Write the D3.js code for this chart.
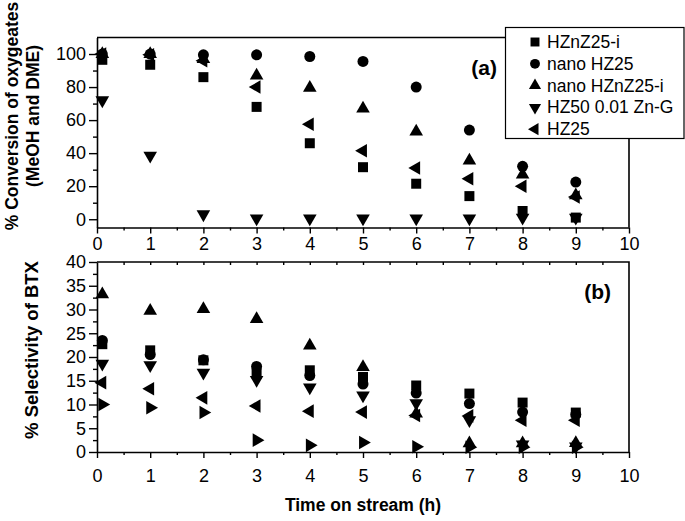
<!DOCTYPE html>
<html>
<head>
<meta charset="utf-8">
<script src="https://cdn.jsdelivr.net/npm/d3@7"></script>
<style>
  body { margin: 0; background: #fff; }
  svg { display: block; }
  text { font-family: "Liberation Sans", Arial, sans-serif; }
</style>
</head>
<body>
<svg id="chart" width="685" height="521"></svg>
<script>
// time on stream (h); first run sits just right of zero in the original
const hours = [0.1, 1, 2, 3, 4, 5, 6, 7, 8, 9]
const xTicks = [0, 1, 2, 3, 4, 5, 6, 7, 8, 9, 10]
const convTicks = [0, 20, 40, 60, 80, 100]
const selTicks = [0, 5, 10, 15, 20, 25, 30, 35, 40]

const seriesNames = ["HZnZ25-i", "nano HZ25", "nano HZnZ25-i", "HZ50 0.01 Zn-G", "HZ25", ""]
const seriesShapes = ["square", "circle", "up", "down", "left", "right"]

// (a) conversion of oxygeates
const convHZnZ25i = [96.5, 93.5, 86, 68, 46, 31.5, 21.5, 14, 5, 1]
const convNanoHZ25 = [100, 100, 99.5, 99.5, 98.5, 95.5, 80, 54, 32, 22.5]
const convNanoHZnZ25i = [100, 100, 97, 87, 79.5, 67, 53, 35.5, 27, 14.5]
const convHZ50 = [72, 38.5, 3, 0.5, 0.5, 0.5, 0.5, 0.5, 1, 1]
const convHZ25 = [100, 99.5, 96, 80, 57.5, 41.5, 31, 24.5, 20, 13.5]

// (b) selectivity of BTX
const selHZnZ25i = [22.7, 21.4, 19.3, 16.5, 17.2, 15.8, 14, 12.3, 10.4, 8.3]
const selNanoHZ25 = [23.5, 20.5, 19.4, 18, 16.1, 14.3, 12.4, 10.2, 8.4, 7.9]
const selNanoHZnZ25i = [33.2, 29.7, 30.1, 28, 22.4, 17.9, 8.1, 1.8, 1.8, 1.9]
const selHZ50 = [18.6, 18.3, 16.7, 15.2, 13.6, 11.9, 10.3, 6.7, 1.6, 1.2]
const selHZ25 = [14.6, 13.3, 11.4, 9.7, 8.6, 8.4, 7.7, 7.6, 6.7, 6.7]
const selUnlabelled = [10, 9.3, 8.3, 2.5, 1.4, 2, 1.1, 1, 1, 1]

const convData = [convHZnZ25i, convNanoHZ25, convNanoHZnZ25i, convHZ50, convHZ25]
const selData = [selHZnZ25i, selNanoHZ25, selNanoHZnZ25i, selHZ50, selHZ25, selUnlabelled]

const svg = d3.select("#chart")
const left = 97, right = 629

const x = d3.scaleLinear().domain([0, 10]).range([left, right])
const yConv = d3.scaleLinear().domain([-5, 110]).range([227.5, 37.5])
const ySel = d3.scaleLinear().domain([0, 40]).range([452, 262])

function shapePath(shape, size) {
    if (shape == "square") return d3.symbol(d3.symbolSquare, size)()
    if (shape == "circle") return d3.symbol(d3.symbolCircle, size * 0.95)()
    return d3.symbol(d3.symbolTriangle, size * 0.8)()
}
const rotation = { square: 0, circle: 0, up: 0, down: 180, left: -90, right: 90 }

function drawMarks(g, data, yScale) {
    data.forEach((values, s) => {
        let shape = seriesShapes[s]
        g.append("g").selectAll("path")
            .data(values)
            .enter()
            .append("path")
            .attr("d", shapePath(shape, 100))
            .attr("transform", (d, i) => `translate(${x(hours[i])},${yScale(d)}) rotate(${rotation[shape]})`)
            .attr("fill", "#000")
    })
}

function styleAxis(g) {
    g.select(".domain").attr("stroke-width", 1.6)
    g.selectAll(".tick line").attr("stroke-width", 1.4)
    g.selectAll(".tick text").attr("font-size", 18).attr("fill", "#000")
        .attr("font-family", "Liberation Sans, Arial, sans-serif")
}

function minorTicks(domain, step) {
    let out = []
    for (let v = domain[0]; v <= domain[1] + 1e-9; v += step) out.push(+v.toFixed(3))
    return out
}

// ---------- panel (a) ----------
svg.append("g")
    .attr("transform", "translate(0,227.5)")
    .call(d3.axisBottom(x).tickValues(minorTicks([0.5, 9.5], 1)).tickSize(3).tickFormat(""))
    .call(g => g.select(".domain").remove())
    .call(styleAxis)
svg.append("g")
    .attr("transform", "translate(0,227.5)")
    .call(d3.axisBottom(x).tickValues(xTicks).tickSize(6).tickSizeOuter(0).tickPadding(4))
    .call(styleAxis)

svg.append("g")
    .attr("transform", `translate(${left},0)`)
    .call(d3.axisLeft(yConv).tickValues(minorTicks([10, 90], 20)).tickSize(4).tickFormat(""))
    .call(g => g.select(".domain").remove())
    .call(styleAxis)
svg.append("g")
    .attr("transform", `translate(${left},0)`)
    .call(d3.axisLeft(yConv).tickValues(convTicks).tickSize(8).tickSizeOuter(0).tickPadding(3))
    .call(styleAxis)

// frame top and right
svg.append("path")
    .attr("d", `M${left},${yConv(110)}H${right}V${yConv(-5)}`)
    .attr("fill", "none").attr("stroke", "#000").attr("stroke-width", 1.6)

drawMarks(svg.append("g"), convData, yConv)

svg.append("text")
    .attr("x", 497).attr("y", 75)
    .attr("text-anchor", "end")
    .attr("font-size", 21).attr("font-weight", "bold")
    .text("(a)")

// legend
let legend = svg.append("g")
legend.append("rect")
    .attr("x", 505.5).attr("y", 27.5).attr("width", 178.5).attr("height", 111)
    .attr("fill", "#fff").attr("stroke", "#000").attr("stroke-width", 1.2)
seriesNames.slice(0, 5).forEach((name, i) => {
    let cy = 42 + i * 21.8
    let shape = seriesShapes[i]
    legend.append("path")
        .attr("d", shapePath(shape, 80))
        .attr("transform", `translate(535,${cy}) rotate(${rotation[shape]})`)
        .attr("fill", "#000")
    legend.append("text")
        .attr("x", 547).attr("y", cy + 6)
        .attr("font-size", 17.5)
        .text(name)
})

// ---------- panel (b) ----------
svg.append("g")
    .attr("transform", "translate(0,452)")
    .call(d3.axisBottom(x).tickValues(minorTicks([0.5, 9.5], 1)).tickSize(3).tickFormat(""))
    .call(g => g.select(".domain").remove())
    .call(styleAxis)
svg.append("g")
    .attr("transform", "translate(0,452)")
    .call(d3.axisBottom(x).tickValues(xTicks).tickSize(6).tickSizeOuter(0).tickPadding(11))
    .call(styleAxis)

// inward ticks on the top edge
svg.append("g")
    .attr("transform", "translate(0,262)")
    .call(d3.axisBottom(x).tickValues(minorTicks([0.5, 9.5], 0.5)).tickSize(3).tickFormat(""))
    .call(g => g.select(".domain").remove())
    .call(styleAxis)

svg.append("g")
    .attr("transform", `translate(${left},0)`)
    .call(d3.axisLeft(ySel).tickValues(minorTicks([2.5, 37.5], 5)).tickSize(4).tickFormat(""))
    .call(g => g.select(".domain").remove())
    .call(styleAxis)
svg.append("g")
    .attr("transform", `translate(${left},0)`)
    .call(d3.axisLeft(ySel).tickValues(selTicks).tickSize(8).tickSizeOuter(0).tickPadding(3))
    .call(styleAxis)

svg.append("path")
    .attr("d", `M${left},${ySel(40)}H${right}V${ySel(0)}`)
    .attr("fill", "none").attr("stroke", "#000").attr("stroke-width", 1.6)

drawMarks(svg.append("g"), selData, ySel)

svg.append("text")
    .attr("x", 611).attr("y", 299)
    .attr("text-anchor", "end")
    .attr("font-size", 21).attr("font-weight", "bold")
    .text("(b)")

// ---------- titles ----------
svg.append("text")
    .attr("text-anchor", "middle")
    .attr("transform", "translate(18,116) rotate(-90)")
    .attr("font-size", 17.5).attr("font-weight", "bold")
    .text("% Conversion of oxygeates")
svg.append("text")
    .attr("text-anchor", "middle")
    .attr("transform", "translate(39,116) rotate(-90)")
    .attr("font-size", 17.5).attr("font-weight", "bold")
    .text("(MeOH and DME)")
svg.append("text")
    .attr("text-anchor", "middle")
    .attr("transform", "translate(38,350) rotate(-90)")
    .attr("font-size", 18.5).attr("font-weight", "bold")
    .text("% Selectivity of BTX")
svg.append("text")
    .attr("x", (left + right) / 2).attr("y", 511)
    .attr("text-anchor", "middle")
    .attr("font-size", 17.5).attr("font-weight", "bold")
    .text("Time on stream (h)")
</script>
</body>
</html>
